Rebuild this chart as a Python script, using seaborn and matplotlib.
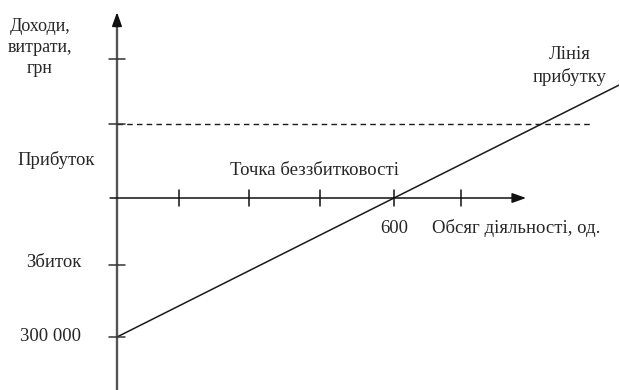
import matplotlib
matplotlib.use("Agg")
import matplotlib.pyplot as plt
import seaborn as sns
import pandas as pd

# ---- data ----
volume = [0, 600, 1100]                  # units of activity
profit = [-300000, 0, 250000]            # profit line, UAH
fixed_volume = [0, 1030]
fixed_level = [160000, 160000]           # dashed horizontal level
x_ticks = [135, 285, 440, 600, 745]
y_ticks = [300000, 160000, -145000, -300000]
breakeven_volume = 600

sns.set_theme(style="white")
plt.rcParams['font.family'] = ['Liberation Serif', 'DejaVu Serif']

fig = plt.figure(figsize=(6.19, 3.90), dpi=100)
ax = fig.add_axes([0, 0, 1, 1])
ax.set_xlim(-253.4, 1087.3)
ax.set_ylim(-414388, 427338)
ax.axis('off')

df = pd.DataFrame({'volume': volume, 'profit': profit})
sns.lineplot(data=df, x='volume', y='profit', ax=ax, color='#1a1a1a', lw=1.1)
dfl = pd.DataFrame({'volume': fixed_volume, 'level': fixed_level})
sns.lineplot(data=dfl, x='volume', y='level', ax=ax, color='#1a1a1a', lw=1.0,
             linestyle=(0, (4, 3)))

# axes with arrows
ax.plot([0, 0], [-414388, 380000], color='#555555', lw=1.7)
ax.annotate('', xy=(0, 401000), xytext=(0, 370000),
            arrowprops=dict(arrowstyle='-|>,head_length=0.7,head_width=0.25',
                            color='#111111', lw=1.2, shrinkA=0, shrinkB=0))
ax.annotate('', xy=(886, 0), xytext=(-15, 0),
            arrowprops=dict(arrowstyle='-|>,head_length=0.7,head_width=0.25',
                            color='#111111', lw=1.1, shrinkA=0, shrinkB=0))

tx = 17.3
ty = 17266
for xt in x_ticks:
    ax.plot([xt, xt], [-ty, ty], color='#111111', lw=1.1)
for yt in y_ticks:
    ax.plot([-tx, tx], [yt, yt], color='#333333', lw=1.1)

fs = 13.5
ax.text(-167, 324000, 'Доходи,\nвитрати,\nгрн', ha='center', va='center',
        fontsize=13, linespacing=1.3)
ax.text(-132, 82000, 'Прибуток', ha='center', va='center', fontsize=fs)
ax.text(-136, -140000, 'Збиток', ha='center', va='center', fontsize=fs)
ax.text(-143, -299000, '300 000', ha='center', va='center', fontsize=fs)
ax.text(427, 60000, 'Точка беззбитковості', ha='center', va='center', fontsize=fs)
ax.text(breakeven_volume, -65000, '600', ha='center', va='center', fontsize=fs)
ax.text(864, -65000, 'Обсяг діяльності, од.', ha='center', va='center', fontsize=fs)
ax.text(981, 285000, 'Лінія\nприбутку', ha='center', va='center', fontsize=fs,
        linespacing=1.3)

fig.savefig('out.png', dpi=100, facecolor='white')
